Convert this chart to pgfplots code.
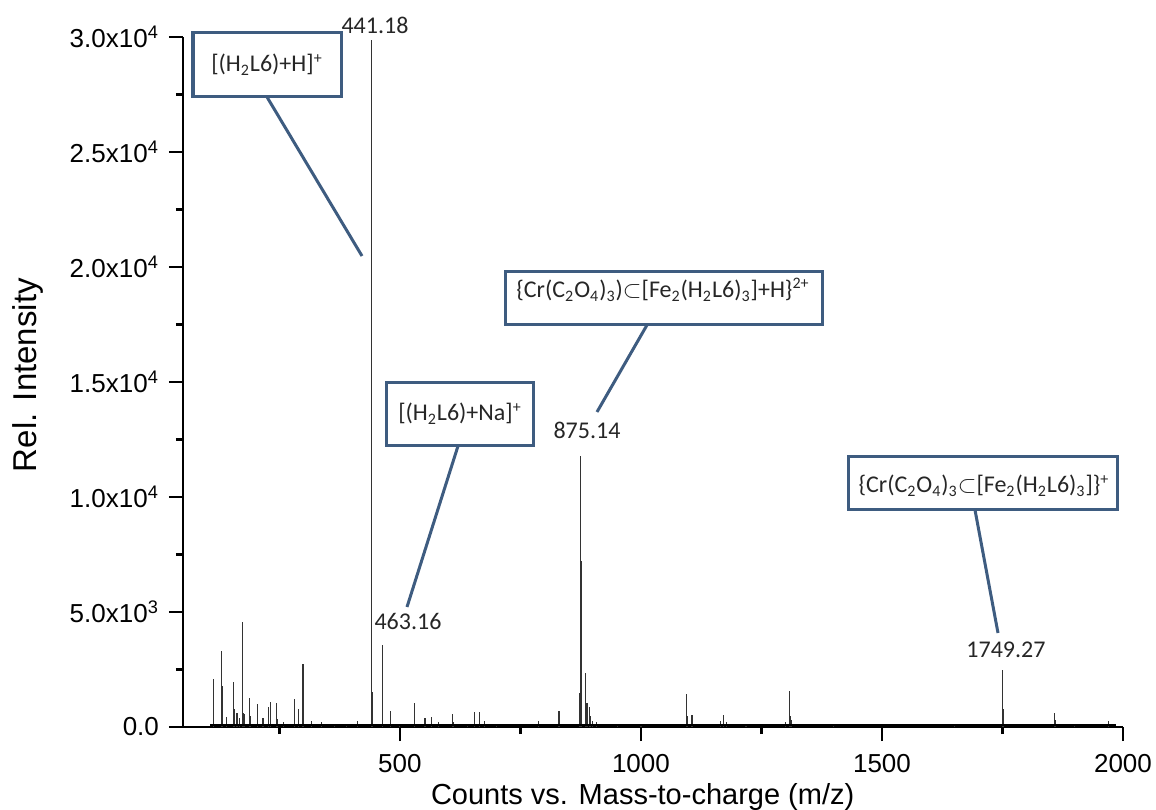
\documentclass[border=0pt]{standalone}
\usepackage{pgfplots}
\pgfplotsset{compat=1.18}
\usepackage{fontspec}
\setmainfont{Liberation Sans}
\newfontfamily\calibri{Carlito}
\definecolor{boxcol}{RGB}{62,92,128}
\pgfplotstableread{
mz inten
113 2100
114 1100
130 3320
131 1780
141 450
155 1970
156 780
162 600
168 400
173.5 4580
175 600
177 550
188 1270
189 500
205 1000
216 390
227 870
231 1100
232 400
244.5 1060
245.5 350
258 200
282 1200
289 770
299 2740
300 500
316 270
338 230
365 150
390 120
412 270
441.18 29850
442.2 1540
443 300
463.16 3560
464.2 1140
480 710
481 200
500 150
529.7 1060
531 300
552 380
566 420
580 200
610 550
612 200
640 150
655 650
666 650
676 270
700 100
786.6 260
830 710
831 250
873 1480
875.14 11800
875.64 7200
876.14 3000
885.3 2360
886 800
888 1040
893.6 880
895 500
900 270
907 200
952 150
1000 100
1095 1430
1096 500
1106 520
1165 250
1172 520
1178 200
1218 150
1300 200
1308 1580
1309 900
1310 500
1312 300
1400 80
1650 100
1749.27 2480
1750.3 1930
1751.3 800
1858 620
1859 300
1900 100
1970 270
}\spectrum
\begin{document}
\begin{tikzpicture}
\begin{axis}[
  scale only axis, width=470pt, height=345pt,
  xmin=50, xmax=2000, ymin=0, ymax=30000,
  axis x line*=bottom, axis y line*=left,
  axis line style={line width=1.2pt, -},
  every outer x axis line/.append style={-},
  every outer y axis line/.append style={-},
  tick align=outside,
  major tick length=7pt, minor tick length=3.5pt,
  every tick/.style={black, line width=1.1pt},
  xtick={500,1000,1500,2000},
  xticklabels={500,1000,1500,2000},
  minor xtick={250,750,1250,1750},
  ytick={0,5000,10000,15000,20000,25000,30000},
  yticklabels={0.0,5.0x10\textsuperscript{3},1.0x10\textsuperscript{4},1.5x10\textsuperscript{4},2.0x10\textsuperscript{4},2.5x10\textsuperscript{4},3.0x10\textsuperscript{4}},
  minor ytick={2500,7500,12500,17500,22500,27500},
  scaled y ticks=false,
  ticklabel style={font=\fontsize{13}{15}\selectfont},
  xticklabel style={yshift=-3pt},
  yticklabel style={xshift=-1.5pt},
  xlabel={Counts vs. Mass-to-charge (m/z)},
  ylabel={Rel. Intensity},
  xlabel style={font=\fontsize{14.5}{17}\selectfont, at={(axis description cs:0.489,-0.1014)}, anchor=center},
  ylabel style={font=\fontsize{16.5}{19}\selectfont, at={(axis description cs:-0.1649,0.51)}, anchor=center},
]
\addplot[ycomb, black!80, line width=0.55pt, mark=none] table[x=mz, y=inten] {\spectrum};
\addplot[black, line width=1.1pt, mark=none] coordinates {(107,70) (1985,70)};
\end{axis}
\begin{scope}[x=0.5pt, y=-0.5pt, shift={(-91.5pt,363.5pt)}]
  \tikzset{bx/.style={draw=boxcol, line width=1.5pt}, ln/.style={boxcol, line width=1.5pt},
           lab/.style={font=\calibri\fontsize{12}{14}\selectfont, text=black!85, inner sep=0pt}}
  % box 1
  \draw[bx] (193,33) rectangle (341,97);
  \node[lab] at (267,65) {[(H\textsubscript{2}L6)+H]\textsuperscript{+}};
  \draw[ln] (267,97) -- (362,256);
  % box 2
  \draw[bx] (386,383) rectangle (533,446);
  \node[lab] at (460,414) {[(H\textsubscript{2}L6)+Na]\textsuperscript{+}};
  \draw[ln] (458,446) -- (407,607);
  % box 3
  \draw[bx] (505,272) rectangle (822,325);
  \node[lab] at (663,290) {\{Cr(C\textsubscript{2}O\textsubscript{4})\textsubscript{3})$\subset$[Fe\textsubscript{2}(H\textsubscript{2}L6)\textsubscript{3}]+H\}\textsuperscript{2+}};
  \draw[ln] (647,325) -- (597,412);
  % box 4
  \draw[bx] (848,457) rectangle (1117,510);
  \node[lab] at (984,486) {\{Cr(C\textsubscript{2}O\textsubscript{4})\textsubscript{3}$\subset$[Fe\textsubscript{2}(H\textsubscript{2}L6)\textsubscript{3}]\}\textsuperscript{+}};
  \draw[ln] (975,510) -- (998,633);
  % peak labels
  \node[lab] at (375,25) {441.18};
  \node[lab] at (408,621) {463.16};
  \node[lab] at (587,430) {875.14};
  \node[lab] at (1006,650) {1749.27};
\end{scope}
\pgfresetboundingbox
\path[use as bounding box] (-91.5pt,-41pt) rectangle (486.5pt,363.5pt);
\end{tikzpicture}
\end{document}
